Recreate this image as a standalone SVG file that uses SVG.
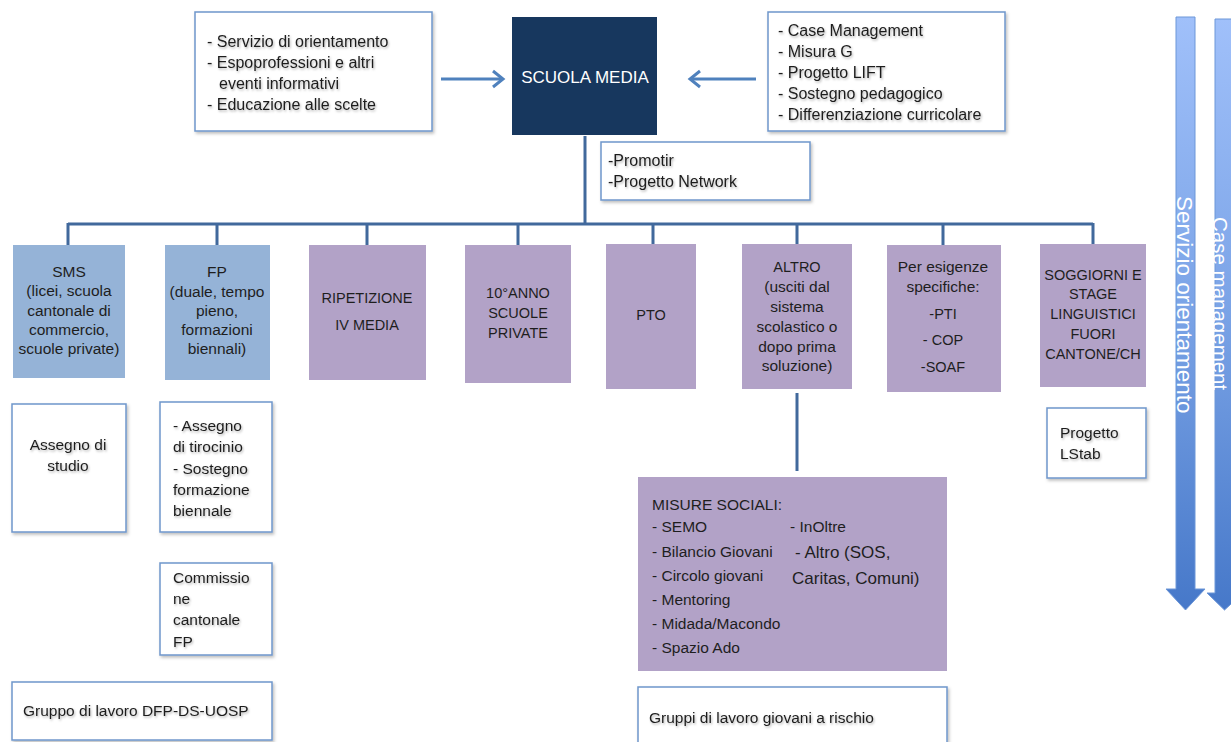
<svg xmlns="http://www.w3.org/2000/svg" width="1231" height="742" viewBox="0 0 1231 742">
<style>
text{font-family:"Liberation Sans",Arial,sans-serif;font-size:15.5px;fill:#1e1e1e}
.wb{fill:#ffffff;stroke:#6f96cb;stroke-width:1.5;filter:url(#bs)}
.blue{fill:#95b3d7}
.purple{fill:#b2a2c7}
.ts{filter:url(#tsh)}
.c{text-anchor:middle}
.big{font-size:16px}
.conn{stroke:#41699c;stroke-width:3;fill:none}
.arr{stroke:#4f81bd;stroke-width:3;fill:none}
.vt{fill:#ffffff;font-size:22.5px}
</style>
<defs>
<filter id="bs" x="-10%" y="-10%" width="130%" height="130%">
<feDropShadow dx="1.5" dy="2" stdDeviation="1.5" flood-color="#000" flood-opacity="0.25"/>
</filter>
<filter id="tsh" x="-5%" y="-30%" width="110%" height="170%">
<feDropShadow dx="1" dy="1.5" stdDeviation="0.8" flood-color="#000" flood-opacity="0.3"/>
</filter>
<linearGradient id="bg" x1="0" y1="0" x2="0" y2="1">
<stop offset="0" stop-color="#a0c0fa"/>
<stop offset="0.5" stop-color="#7aa3e6"/>
<stop offset="1" stop-color="#4678c9"/>
</linearGradient>
<marker id="ah" markerUnits="userSpaceOnUse" markerWidth="20" markerHeight="20" viewBox="0 0 20 20" refX="17" refY="10" orient="auto">
<path d="M7,2 L17,10 L7,18" fill="none" stroke="#4f81bd" stroke-width="3"/>
</marker>
</defs>

<g id="connectors">
<path class="conn" d="M585 136 V224"/>
<path class="conn" d="M68 224 H1093"/>
<path class="conn" d="M68 223 V245 M217 223 V245 M367 223 V245 M518 223 V245 M653 223 V245 M797 223 V245 M943 223 V245 M1093 223 V245"/>
<path class="conn" d="M797 393 V471"/>
<path class="arr" d="M441 79 H503" marker-end="url(#ah)"/>
<path class="arr" d="M756 79 H690" marker-end="url(#ah)"/>
</g>

<g id="orientamento-box">
<rect class="wb" x="195" y="12" width="237" height="119"/>
<g class="ts big">
<text x="207" y="47" class="big">- Servizio di orientamento</text>
<text x="207" y="68" class="big">- Espoprofessioni e altri</text>
<text x="219" y="89" class="big">eventi informativi</text>
<text x="207" y="110" class="big">- Educazione alle scelte</text>
</g>
</g>

<g id="scuola-media">
<rect x="512" y="17" width="145" height="118" fill="#17375e"/>
<text x="585" y="83" class="c" style="fill:#ffffff;font-size:17px">SCUOLA MEDIA</text>
</g>

<g id="misure-box">
<rect class="wb" x="768" y="12" width="237" height="119"/>
<g class="ts">
<text x="778" y="36" class="big">- Case Management</text>
<text x="778" y="57" class="big">- Misura G</text>
<text x="778" y="78" class="big">- Progetto LIFT</text>
<text x="778" y="99" class="big">- Sostegno pedagogico</text>
<text x="778" y="120" class="big">- Differenziazione  curricolare</text>
</g>
</g>

<g id="promotir">
<rect class="wb" x="601" y="142" width="209" height="58"/>
<g class="ts">
<text x="608" y="166" class="big">-Promotir</text>
<text x="608" y="187" class="big">-Progetto Network</text>
</g>
</g>

<g id="sms">
<rect class="blue" x="13" y="245" width="112" height="133"/>
<text x="69" y="277" class="c">SMS</text>
<text x="69" y="296" class="c">(licei, scuola</text>
<text x="69" y="316" class="c">cantonale di</text>
<text x="69" y="335" class="c">commercio,</text>
<text x="69" y="354" class="c">scuole private)</text>
</g>

<g id="fp">
<rect class="blue" x="165" y="245" width="105" height="135"/>
<text x="217" y="277" class="c">FP</text>
<text x="217" y="297" class="c">(duale, tempo</text>
<text x="217" y="316" class="c">pieno,</text>
<text x="217" y="335" class="c">formazioni</text>
<text x="217" y="354" class="c">biennali)</text>
</g>

<g id="ripetizione">
<rect class="purple" x="309" y="245" width="117" height="135"/>
<text x="367" y="303" class="c" style="font-size:14.5px">RIPETIZIONE</text>
<text x="367" y="330" class="c" style="font-size:14.5px">IV MEDIA</text>
</g>

<g id="decimo-anno">
<rect class="purple" x="465" y="245" width="106" height="138"/>
<text x="518" y="298" class="c" style="font-size:14.5px">10°ANNO</text>
<text x="518" y="318" class="c" style="font-size:14.5px">SCUOLE</text>
<text x="518" y="338" class="c" style="font-size:14.5px">PRIVATE</text>
</g>

<g id="pto">
<rect class="purple" x="606" y="244" width="90" height="145"/>
<text x="651" y="320" class="c" style="font-size:14.5px">PTO</text>
</g>

<g id="altro">
<rect class="purple" x="742" y="244" width="110" height="145"/>
<text x="797" y="272" class="c" style="font-size:14.5px">ALTRO</text>
<text x="797" y="292" class="c">(usciti dal</text>
<text x="797" y="312" class="c">sistema</text>
<text x="797" y="332" class="c">scolastico o</text>
<text x="797" y="352" class="c">dopo prima</text>
<text x="797" y="371" class="c">soluzione)</text>
</g>

<g id="esigenze">
<rect class="purple" x="887" y="245" width="114" height="147"/>
<text x="943" y="272" class="c">Per esigenze</text>
<text x="943" y="292" class="c">specifiche:</text>
<text x="943" y="319" class="c" style="font-size:14.5px">-PTI</text>
<text x="943" y="345" class="c" style="font-size:14.5px">- COP</text>
<text x="943" y="372" class="c" style="font-size:14.5px">-SOAF</text>
</g>

<g id="soggiorni">
<rect class="purple" x="1040" y="244" width="106" height="143"/>
<text x="1093" y="280" class="c" style="font-size:14.5px">SOGGIORNI E</text>
<text x="1093" y="299" class="c" style="font-size:14.5px">STAGE</text>
<text x="1093" y="319" class="c" style="font-size:14.5px">LINGUISTICI</text>
<text x="1093" y="339" class="c" style="font-size:14.5px">FUORI</text>
<text x="1093" y="359" class="c" style="font-size:14.5px">CANTONE/CH</text>
</g>

<g id="lstab">
<rect class="wb" x="1047" y="408" width="99" height="70"/>
<g class="ts">
<text x="1060" y="438">Progetto</text>
<text x="1060" y="459">LStab</text>
</g>
</g>

<g id="assegno-studio">
<rect class="wb" x="12" y="404" width="114" height="128"/>
<g class="ts">
<text x="68" y="450" class="c">Assegno di</text>
<text x="68" y="471" class="c">studio</text>
</g>
</g>

<g id="assegno-tirocinio">
<rect class="wb" x="160" y="402" width="112" height="130"/>
<g class="ts">
<text x="173" y="431">- Assegno</text>
<text x="173" y="452">di tirocinio</text>
<text x="173" y="474">- Sostegno</text>
<text x="173" y="495">formazione</text>
<text x="173" y="516">biennale</text>
</g>
</g>

<g id="commissione">
<rect class="wb" x="160" y="563" width="112" height="92"/>
<g class="ts">
<text x="173" y="583">Commissio</text>
<text x="173" y="604">ne</text>
<text x="173" y="625">cantonale</text>
<text x="173" y="647">FP</text>
</g>
</g>

<g id="gruppo-dfp">
<rect class="wb" x="12" y="682" width="260" height="58"/>
<text x="23" y="716" class="ts">Gruppo di lavoro DFP-DS-UOSP</text>
</g>

<g id="misure-sociali">
<rect class="purple" x="638" y="477" width="309" height="194"/>
<text x="652" y="510">MISURE SOCIALI:</text>
<text x="652" y="532">- SEMO</text>
<text x="652" y="557">- Bilancio Giovani</text>
<text x="652" y="581">- Circolo giovani</text>
<text x="652" y="605">- Mentoring</text>
<text x="652" y="629">- Midada/Macondo</text>
<text x="652" y="653">- Spazio Ado</text>
<text x="790" y="532">- InOltre</text>
<text x="795" y="558" style="font-size:17px">- Altro (SOS,</text>
<text x="792" y="584" style="font-size:17px">Caritas, Comuni)</text>
</g>

<g id="gruppi-rischio">
<rect class="wb" x="638" y="687" width="309" height="62"/>
<text x="649" y="723" class="ts">Gruppi di lavoro giovani a rischio</text>
</g>

<g id="servizio-orientamento-arrow">
<polygon points="1176,17 1195,17 1195,589 1205,589 1185.5,610 1166,589 1176,589" fill="url(#bg)" stroke="#6d97d8" stroke-width="1"/>
<text class="vt" transform="translate(1177,196) rotate(90)">Servizio orientamento</text>
</g>

<g id="case-management-arrow">
<polygon points="1215,19 1234,19 1234,593 1243,593 1224.5,610 1207,593 1215,593" fill="url(#bg)" stroke="#6d97d8" stroke-width="1"/>
<text class="vt" style="font-size:20.5px" transform="translate(1213,217) rotate(90)">Case management</text>
</g>
</svg>
